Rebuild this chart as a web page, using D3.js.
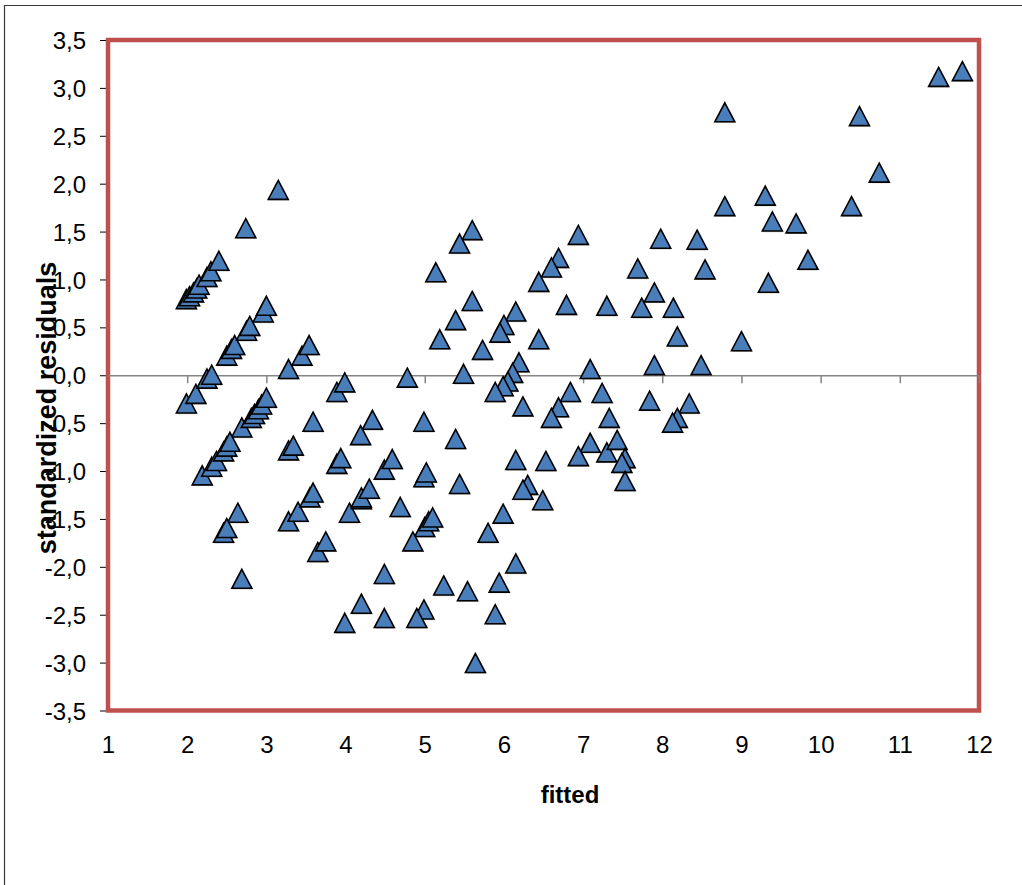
<!DOCTYPE html>
<meta charset="utf-8">
<style>
    body { margin: 0; background: #fff; }
    svg text { font-family: Arial, "Liberation Sans", sans-serif; fill: #000; }
    .tick text { font-size: 24px; }
    .axis-title { font-size: 24px; font-weight: bold; }
</style>
<svg width="1022" height="885"></svg>

<script src="https://d3js.org/d3.v7.min.js"></script>
<script>
    // fitted values and standardized residuals
    var fitted = [
        1.99, 2.03, 2.08, 2.12, 2.15, 2.25, 2.30, 2.40, 2.74, 3.15,
        2.50, 2.56, 2.60, 2.75, 2.79, 2.96, 3.00, 3.28, 3.45, 3.54,
        1.99, 2.11, 2.25, 2.31, 3.89, 3.99, 2.69, 2.81, 2.85, 2.90,
        2.94, 3.00, 2.19, 2.31, 2.37, 2.46, 2.50, 2.54, 3.59, 3.28,
        3.34, 3.89, 3.94, 2.64, 2.46, 2.50, 3.28, 3.40, 3.55, 3.59,
        4.05, 4.20, 3.65, 3.75, 2.69,
        4.78, 5.49, 4.34, 4.19, 4.99, 5.39, 4.49, 4.59, 4.99, 5.02,
        5.44, 4.20, 4.30, 4.69, 5.00, 5.05, 5.10, 4.85, 4.49, 5.24,
        5.54, 4.20, 4.99, 4.90, 3.99, 4.49,
        5.60, 5.44, 5.14, 6.94, 6.69, 6.60, 6.44, 6.79, 7.30, 5.60,
        5.39, 5.19, 6.15, 6.00, 5.95, 6.44, 5.73, 6.19, 6.11, 6.05,
        5.99, 5.89, 7.09, 6.84, 7.24,
        6.24, 6.69, 6.60, 7.33, 7.09, 7.30, 6.15, 6.53, 6.94, 6.30,
        6.24, 6.49, 5.99, 5.80, 6.15, 5.94, 5.89, 5.64,
        7.98, 8.44, 7.69, 8.54, 7.90, 7.74, 8.14, 8.19, 9.00, 7.90,
        8.49, 7.84, 8.34, 8.19, 8.13, 7.43, 7.53, 7.49, 7.53, 8.79,
        8.79, 9.30, 9.39, 9.69, 9.84, 9.34, 11.79, 11.49, 10.49, 10.74,
        10.39
    ];
    var residuals = [
        0.79, 0.82, 0.86, 0.90, 0.94, 1.02, 1.08, 1.19, 1.53, 1.93,
        0.20, 0.27, 0.31, 0.46, 0.51, 0.65, 0.72, 0.06, 0.20, 0.31,
        -0.30, -0.20, -0.04, 0.00, -0.18, -0.08, -0.55, -0.45, -0.41, -0.36,
        -0.31, -0.24, -1.05, -0.96, -0.90, -0.80, -0.75, -0.70, -0.49, -0.79,
        -0.74, -0.93, -0.87, -1.44, -1.65, -1.60, -1.53, -1.43, -1.28, -1.23,
        -1.44, -1.30, -1.85, -1.74, -2.13,
        -0.03, 0.01, -0.47, -0.63, -0.49, -0.67, -0.99, -0.88, -1.07, -1.02,
        -1.14, -1.28, -1.19, -1.38, -1.59, -1.53, -1.49, -1.74, -2.08, -2.20,
        -2.26, -2.39, -2.45, -2.54, -2.59, -2.54,
        1.51, 1.37, 1.07, 1.46, 1.22, 1.12, 0.97, 0.73, 0.72, 0.77,
        0.57, 0.37, 0.66, 0.52, 0.44, 0.37, 0.26, 0.13, 0.02, -0.07,
        -0.12, -0.18, 0.06, -0.18, -0.19,
        -0.33, -0.34, -0.45, -0.45, -0.71, -0.81, -0.89, -0.90, -0.85, -1.15,
        -1.20, -1.31, -1.45, -1.65, -1.97, -2.17, -2.50, -3.01,
        1.42, 1.41, 1.11, 1.10, 0.86, 0.70, 0.70, 0.40, 0.35, 0.10,
        0.10, -0.27, -0.30, -0.45, -0.50, -0.68, -0.87, -0.92, -1.11, 2.74,
        1.76, 1.87, 1.60, 1.58, 1.20, 0.96, 3.17, 3.11, 2.70, 2.11,
        1.76
    ];
    var xTicks = [1, 2, 3, 4, 5, 6, 7, 8, 9, 10, 11, 12];
    var yTicks = [-3.5, -3, -2.5, -2, -1.5, -1, -0.5, 0, 0.5, 1, 1.5, 2, 2.5, 3, 3.5];

    var svg = d3.select("svg"),
        plotLeft = 108, plotRight = 979, plotTop = 40, plotBottom = 710.5;

    var x = d3.scaleLinear().domain([1, 12]).range([plotLeft, plotRight]);
    var y = d3.scaleLinear().domain([-3.5, 3.5]).range([plotBottom, plotTop]);
    var fmt = function(d) { return d3.format(".1f")(d).replace(".", ",").replace("−", "-"); };

    // chart area frame (only top and left edges are visible)
    svg.append("path")
        .attr("d", "M4.5,885 V5.5 H1022")
        .attr("fill", "none")
        .attr("stroke", "#3a3a3a")
        .attr("stroke-width", 1.2);

    // y axis ticks and labels on the left
    var yAxis = svg.append("g")
        .attr("transform", "translate(" + plotLeft + ",0)")
        .call(d3.axisLeft(y).tickValues(yTicks).tickFormat(fmt).tickSize(8).tickPadding(14));
    yAxis.select(".domain").remove();
    yAxis.selectAll(".tick line").attr("stroke", "#000");
    yAxis.selectAll(".tick text").attr("dy", "0.36em");

    // x tick labels at the bottom
    var xLabels = svg.append("g")
        .attr("transform", "translate(0," + plotBottom + ")")
        .call(d3.axisBottom(x).tickValues(xTicks).tickFormat(d3.format("d")).tickSize(0).tickPadding(25));
    xLabels.select(".domain").remove();

    // plot area border
    svg.append("rect")
        .attr("x", plotLeft)
        .attr("y", plotTop)
        .attr("width", plotRight - plotLeft)
        .attr("height", plotBottom - plotTop)
        .attr("fill", "none")
        .attr("stroke", "#c0504d")
        .attr("stroke-width", 4.5);

    // horizontal axis line crossing at zero
    var xAxis = svg.append("g")
        .attr("transform", "translate(0," + y(0) + ")")
        .call(d3.axisBottom(x).tickValues(xTicks.slice(1)).tickFormat("").tickSize(8).tickSizeOuter(0));
    xAxis.select(".domain").attr("stroke", "#858585").attr("stroke-width", 1.5);
    xAxis.selectAll(".tick line").attr("stroke", "#858585").attr("stroke-width", 1.5);

    // triangle markers
    var tri = function(d) {
        var cx = x(d[0]), cy = y(d[1]);
        return "M" + cx + "," + (cy - 10) + "L" + (cx + 10) + "," + (cy + 9) + "L" + (cx - 10) + "," + (cy + 9) + "Z";
    };
    var pts = d3.zip(fitted, residuals);
    svg.append("g")
        .selectAll("path")
        .data(pts)
        .enter().append("path")
        .attr("d", tri)
        .attr("transform", "translate(0.8,1.2)")
        .attr("fill", "#9a9a9a")
        .attr("stroke", "none")
        .attr("opacity", 0.6);
    svg.append("g")
        .selectAll("path")
        .data(pts)
        .enter().append("path")
        .attr("d", tri)
        .attr("fill", "#4a7ebb")
        .attr("stroke", "#000")
        .attr("stroke-width", 1.6)
        .attr("stroke-linejoin", "miter");

    // axis titles (the y title sits over the tick labels, as in the original)
    svg.append("text")
        .attr("class", "axis-title")
        .attr("transform", "translate(56,408) rotate(-90)")
        .attr("text-anchor", "middle")
        .style("font-size", "27px")
        .text("standardized residuals");
    svg.append("text")
        .attr("class", "axis-title")
        .attr("x", 570)
        .attr("y", 803)
        .attr("text-anchor", "middle")
        .text("fitted");
</script>
